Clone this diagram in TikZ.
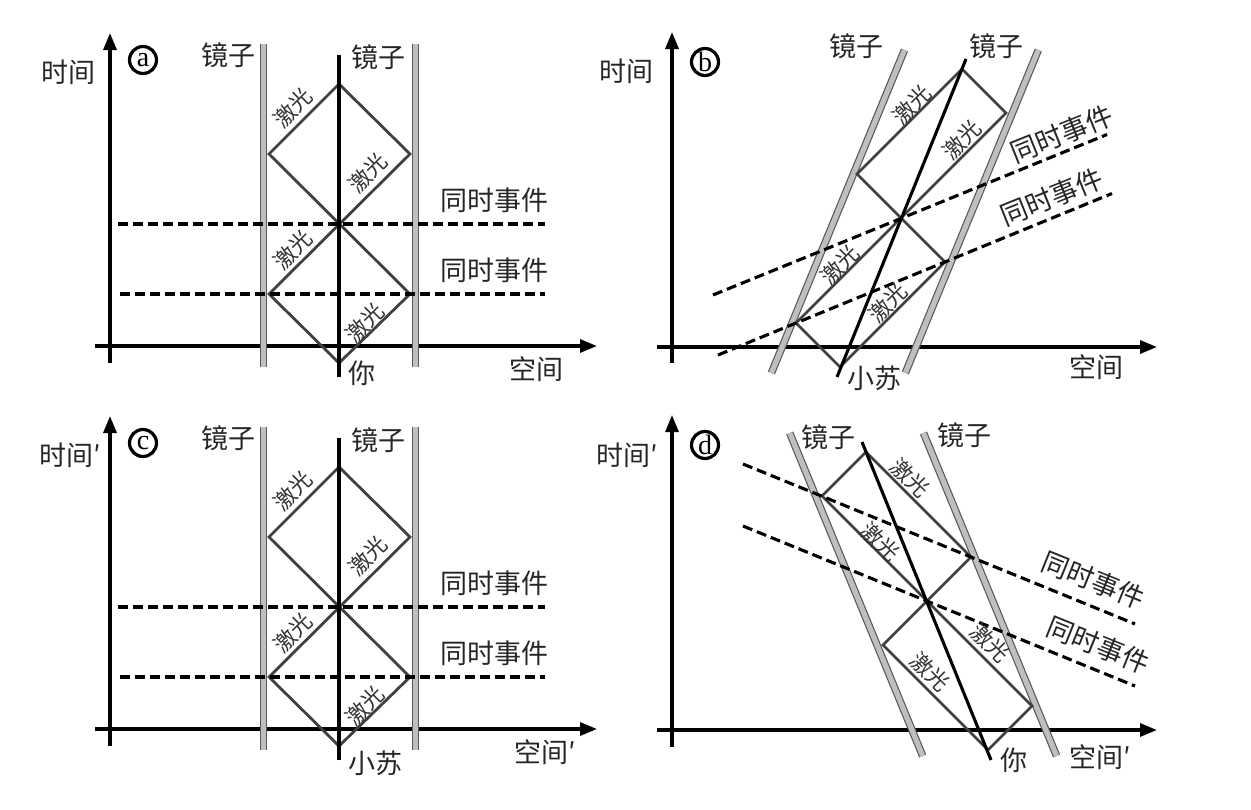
\documentclass[tikz,border=0pt]{standalone}
\usepackage{fontspec}
\newfontfamily\cjk{Noto Sans CJK SC}
\setmainfont{Liberation Serif}
\usetikzlibrary{arrows.meta}
\tikzset{
  axis/.style={line width=3.2pt, draw=black, -{Triangle[length=17pt,width=13pt]}},
  mirror/.style={draw=black!65, line width=1.2pt, double=black!25, double distance=5.2pt},
  laser/.style={draw=black!75, line width=2.8pt},
  world/.style={draw=black, line width=3.1pt},
  simul/.style={draw=black, line width=3.1pt, dash pattern=on 10pt off 5pt},
  lbl/.style={font=\cjk\fontsize{27}{27}\selectfont, text=black!85, inner sep=0pt},
  las/.style={font=\cjk\fontsize{22}{22}\selectfont, text=black!80, inner sep=0pt},
  tag/.style={circle, draw=black, line width=3.2pt, minimum size=27pt, inner sep=0pt, font=\fontsize{28}{28}\selectfont},
}
\newcommand{\restpanel}[1]{%
  \coordinate (#1Xs) at (95,346); \coordinate (#1Xe) at (597,346);
  \coordinate (#1Ys) at (110,363); \coordinate (#1Ye) at (110,33);
  \draw[axis] (#1Xs) -- (#1Xe);
  \draw[axis] (#1Ys) -- (#1Ye);
  \coordinate (#1mLa) at (263.5,44); \coordinate (#1mLb) at (263.5,367);
  \coordinate (#1mRa) at (415.5,44); \coordinate (#1mRb) at (415.5,367);
  \draw[mirror] (#1mLb) -- (#1mLa);
  \draw[mirror] (#1mRb) -- (#1mRa);
  \coordinate (#1B) at (339,363);
  \coordinate (#1L1) at (269,294); \coordinate (#1R1) at (410,294);
  \coordinate (#1L2) at (269,154); \coordinate (#1R2) at (410,154);
  \coordinate (#1T) at (339,84);
  \draw[laser] (#1B) -- (#1R1) -- (#1L2) -- (#1T) -- (#1R2) -- (#1L1) -- cycle;
  \coordinate (#1wa) at (339,377); \coordinate (#1wb) at (339,55);
  \draw[world] (#1wa) -- (#1wb);
  \coordinate (#1s1a) at (118,224); \coordinate (#1s1b) at (545,224);
  \coordinate (#1s2a) at (120,294); \coordinate (#1s2b) at (545,294);
  \draw[simul] (#1s1a) -- (#1s1b);
  \draw[simul] (#1s2a) -- (#1s2b);
  \node[lbl] (#1mirL) at (228,55) {镜子};
  \node[lbl] (#1mirR) at (378,57) {镜子};
  \node[lbl] (#1ev1) at (494,200) {同时事件};
  \node[lbl] (#1ev2) at (494,270) {同时事件};
  \node[las, rotate=45] (#1la1) at (293,108) {激光};
  \node[las, rotate=45] (#1la2) at (368,173) {激光};
  \node[las, rotate=45] (#1la3) at (293,250) {激光};
  \node[las, rotate=45] (#1la4) at (365,323) {激光};
}
\begin{document}
\begin{tikzpicture}[x=1pt,y=-1pt]
\useasboundingbox (0,0) rectangle (1251,809);

% ---------- panel a ----------
\restpanel{a}
\node[lbl, anchor=west] (atime) at (41,72) {时间};
\node[tag] (atag) at (143,60) {a};
\node[lbl, anchor=west] (ayou) at (348,373) {你};
\node[lbl, anchor=west] (aspace) at (509,369) {空间};

% ---------- panel c ----------
\begin{scope}[yshift=-383pt]
\restpanel{c}
\end{scope}
\node[lbl, anchor=west] (ctime) at (39,455) {时间′};
\node[tag] (ctag) at (143,443) {c};
\node[lbl, anchor=west] (csu) at (348,763) {小苏};
\node[lbl, anchor=west] (cspace) at (514,752) {空间′};

% ---------- panel b ----------
\coordinate (bXs) at (657,347); \coordinate (bXe) at (1157,347);
\coordinate (bYs) at (672,363); \coordinate (bYe) at (672,32);
\draw[axis] (bXs) -- (bXe);
\draw[axis] (bYs) -- (bYe);
\coordinate (bmLa) at (904.5,50); \coordinate (bmLb) at (771.4,373);
\coordinate (bmRa) at (1038.3,50); \coordinate (bmRb) at (905.3,373);
\draw[mirror] (bmLb) -- (bmLa);
\draw[mirror] (bmRb) -- (bmRa);
\coordinate (bB) at (840,367);
\coordinate (bL1) at (796,323); \coordinate (bR1) at (945,262);
\coordinate (bL2) at (857,174); \coordinate (bR2) at (1006,113);
\coordinate (bT) at (962,69);
\draw[laser] (bB) -- (bL1) -- (bR2) -- (bT) -- (bL2) -- (bR1) -- cycle;
\coordinate (bwa) at (837,377); \coordinate (bwb) at (966,59);
\draw[world] (bwa) -- (bwb);
\coordinate (bs1a) at (713,295); \coordinate (bs1b) at (1107,134.5);
\coordinate (bs2a) at (718,355); \coordinate (bs2b) at (1112,193.5);
\draw[simul] (bs1a) -- (bs1b);
\draw[simul] (bs2a) -- (bs2b);
\node[lbl, anchor=west] (btime) at (599,71) {时间};
\node[tag] (btag) at (705,62) {b};
\node[lbl] (bmirL) at (856,46) {镜子};
\node[lbl] (bmirR) at (996,46) {镜子};
\node[lbl, rotate=22] (bev1) at (1062,134) {同时事件};
\node[lbl, rotate=22] (bev2) at (1052,197) {同时事件};
\node[las, rotate=45] (bla1) at (912,105) {激光};
\node[las, rotate=45] (bla2) at (962,140) {激光};
\node[las, rotate=45] (bla3) at (840,265) {激光};
\node[las, rotate=45] (bla4) at (888,303) {激光};
\node[lbl, anchor=west] (bsu) at (847,378) {小苏};
\node[lbl, anchor=west] (bspace) at (1069,367) {空间};

% ---------- panel d ----------
\coordinate (dXs) at (657,730); \coordinate (dXe) at (1157,730);
\coordinate (dYs) at (672,747); \coordinate (dYe) at (672,415);
\draw[axis] (dXs) -- (dXe);
\draw[axis] (dYs) -- (dYe);
\coordinate (dmLa) at (789.7,433); \coordinate (dmLb) at (922.7,756);
\coordinate (dmRa) at (923.5,433); \coordinate (dmRb) at (1056.6,756);
\draw[mirror] (dmLb) -- (dmLa);
\draw[mirror] (dmRb) -- (dmRa);
\coordinate (dB) at (988,750);
\coordinate (dL1) at (1032,706); \coordinate (dR1) at (883,645);
\coordinate (dL2) at (971,557); \coordinate (dR2) at (822,496);
\coordinate (dT) at (866,452);
\draw[laser] (dB) -- (dL1) -- (dR2) -- (dT) -- (dL2) -- (dR1) -- cycle;
\coordinate (dwa) at (991,760); \coordinate (dwb) at (862,442);
\draw[world] (dwa) -- (dwb);
\coordinate (ds1a) at (743,464); \coordinate (ds1b) at (1135,624);
\coordinate (ds2a) at (743,526); \coordinate (ds2b) at (1135,686);
\draw[simul] (ds1a) -- (ds1b);
\draw[simul] (ds2a) -- (ds2b);
\node[lbl, anchor=west] (dtime) at (596,455) {时间′};
\node[tag] (dtag) at (705,445) {d};
\node[lbl] (dmirL) at (828,437) {镜子};
\node[lbl] (dmirR) at (964,435) {镜子};
\node[lbl, rotate=-22] (dev1) at (1093,580) {同时事件};
\node[lbl, rotate=-22] (dev2) at (1098,645) {同时事件};
\node[las, rotate=-45] (dla1) at (910,478) {激光};
\node[las, rotate=-45] (dla2) at (880,542) {激光};
\node[las, rotate=-45] (dla3) at (990,643) {激光};
\node[las, rotate=-45] (dla4) at (930,672) {激光};
\node[lbl, anchor=west] (dyou) at (1000,760) {你};
\node[lbl, anchor=west] (dspace) at (1069,757) {空间′};
\end{tikzpicture}
\end{document}
